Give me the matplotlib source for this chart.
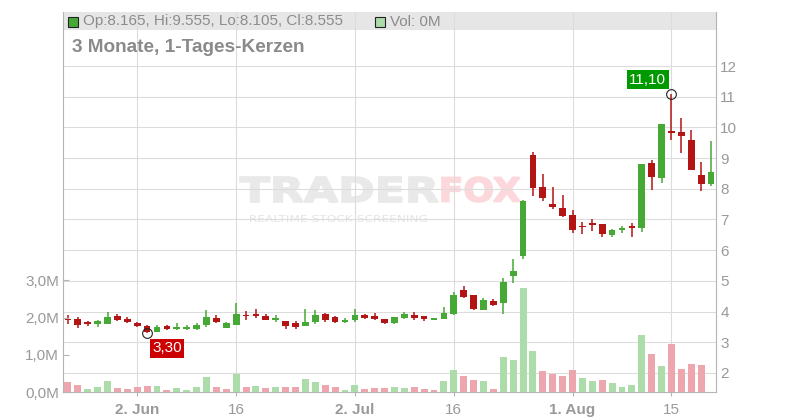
import numpy as np
import pandas as pd
import matplotlib
matplotlib.use('Agg')
import matplotlib.pyplot as plt
import matplotlib.transforms as mtransforms
from matplotlib.patches import Rectangle, PathPatch
from matplotlib.textpath import TextPath
from matplotlib.font_manager import FontProperties

plt.rcParams['font.family'] = ['Liberation Sans', 'DejaVu Sans']

# daily candles, 22 May - 21 Aug 2025 (weekdays)
dates = pd.bdate_range('2025-05-22', '2025-08-21')

opens = [3.73, 3.76, 3.67, 3.60, 3.61, 3.85, 3.77, 3.64, 3.52, 3.34,
         3.53, 3.44, 3.43, 3.44, 3.57, 3.80, 3.48, 3.57, 3.88, 3.91,
         3.87, 3.74, 3.69, 3.64, 3.53, 3.67, 3.92, 3.82, 3.66, 3.73,
         3.89, 3.86, 3.76, 3.63, 3.79, 3.89, 3.86, 3.73, 3.76, 3.92,
         4.70, 4.54, 4.05, 4.35, 4.29, 5.17, 5.82, 9.10, 8.07, 7.50,
         7.38, 7.15, 6.77, 6.90, 6.85, 6.50, 6.67, 6.80, 6.73, 8.84,
         8.36, 9.89, 9.86, 9.59, 8.45, 8.165]
highs = [3.89, 3.82, 3.70, 3.74, 4.00, 3.93, 3.82, 3.67, 3.55, 3.57,
         3.55, 3.63, 3.56, 3.64, 4.05, 3.88, 3.66, 4.29, 4.03, 4.08,
         3.91, 3.89, 3.69, 3.69, 4.08, 4.05, 3.96, 3.86, 3.79, 4.08,
         3.91, 3.95, 3.76, 3.82, 3.99, 3.99, 3.86, 3.77, 4.15, 4.64,
         4.83, 4.54, 4.44, 4.41, 5.09, 5.71, 7.62, 9.20, 8.48, 8.07,
         7.80, 7.31, 6.91, 7.01, 6.85, 6.69, 6.80, 6.90, 8.81, 8.95,
         10.11, 11.10, 10.30, 9.92, 8.86, 9.555]
lows = [3.59, 3.48, 3.54, 3.50, 3.61, 3.70, 3.63, 3.49, 3.30, 3.33,
        3.39, 3.39, 3.41, 3.39, 3.50, 3.63, 3.48, 3.57, 3.74, 3.80,
        3.72, 3.67, 3.43, 3.43, 3.53, 3.60, 3.67, 3.64, 3.64, 3.67,
        3.76, 3.73, 3.60, 3.60, 3.76, 3.73, 3.69, 3.72, 3.76, 3.89,
        4.44, 4.05, 4.05, 4.18, 3.93, 4.94, 5.70, 7.77, 7.61, 7.33,
        7.09, 6.57, 6.52, 6.64, 6.42, 6.42, 6.55, 6.44, 6.60, 7.96,
        8.18, 9.59, 9.16, 8.62, 7.94, 8.105]
closes = [3.72, 3.55, 3.61, 3.69, 3.82, 3.74, 3.67, 3.52, 3.33, 3.50,
          3.43, 3.46, 3.51, 3.57, 3.82, 3.67, 3.64, 3.93, 3.84, 3.85,
          3.74, 3.76, 3.54, 3.51, 3.66, 3.89, 3.73, 3.67, 3.73, 3.89,
          3.79, 3.76, 3.63, 3.82, 3.92, 3.79, 3.75, 3.74, 3.95, 4.54,
          4.48, 4.08, 4.38, 4.21, 4.96, 5.32, 7.60, 8.04, 7.71, 7.41,
          7.12, 6.67, 6.75, 6.83, 6.54, 6.66, 6.69, 6.73, 8.81, 8.37,
          10.11, 9.83, 9.72, 8.62, 8.17, 8.555]
volumes = [0.28, 0.20, 0.09, 0.14, 0.30, 0.12, 0.09, 0.14, 0.17, 0.17,
           0.06, 0.12, 0.06, 0.14, 0.41, 0.14, 0.09, 0.49, 0.14, 0.17,
           0.12, 0.14, 0.14, 0.14, 0.36, 0.28, 0.20, 0.14, 0.06, 0.20,
           0.09, 0.12, 0.12, 0.13, 0.10, 0.13, 0.07, 0.05, 0.29, 0.58,
           0.42, 0.31, 0.30, 0.09, 0.95, 0.87, 2.80, 1.10, 0.56, 0.48,
           0.43, 0.59, 0.38, 0.30, 0.32, 0.24, 0.13, 0.19, 1.53, 1.02,
           0.70, 1.29, 0.62, 0.75, 0.72, 0.0]

tick_dates = ['2025-06-02', '2025-06-16', '2025-07-02', '2025-07-16', '2025-08-01', '2025-08-15']
tick_labels = ['2. Jun', '16', '2. Jul', '16', '1. Aug', '15']
price_ticks = list(range(2, 13))
vol_ticks = [0, 1, 2, 3]

GREEN = '#46a935'
RED = '#b31515'
VGREEN = '#acdcaa'
VRED = '#eea6ae'
TXT = '#999999'
W, H = 800, 420

o, h, l, c = map(np.array, (opens, highs, lows, closes))
v = np.array(volumes)
x = np.arange(len(dates))

fig = plt.figure(figsize=(W / 100, H / 100), dpi=100)
ax = fig.add_axes([63 / W, 1 - 392 / H, (716 - 63) / W, (392 - 12) / H])
axv = ax.twinx()

# candles
ccol = np.where(c >= o, GREEN, RED)
ax.vlines(x, l, h, colors=ccol, linewidth=1.1, zorder=3)
ax.bar(x, np.maximum(np.abs(c - o), 0.05), bottom=np.minimum(o, c),
       width=0.68, color=ccol, zorder=4)

# volume, coloured by close-to-close change
vup = np.r_[False, c[1:] >= c[:-1]]
axv.bar(x, v, width=0.7, color=np.where(vup, VGREEN, VRED), zorder=2)

ax.set_xlim(-0.5, len(x) - 0.5)
ax.set_ylim(1.38, 13.76)
axv.set_ylim(0, 10.21)

pos = [dates.get_loc(pd.Timestamp(d)) for d in tick_dates]
ax.set_xticks(pos)
ax.set_xticklabels(tick_labels)
for lab in ax.get_xticklabels():
    if '.' in lab.get_text():
        lab.set_fontweight('bold')
ax.set_yticks(price_ticks)
ax.yaxis.tick_right()
axv.yaxis.tick_left()
axv.set_yticks(vol_ticks)
axv.set_yticklabels([f'{t:.1f}M'.replace('.', ',') for t in vol_ticks])

ax.grid(True, color='#dcdcdc', linewidth=0.8)
ax.set_axisbelow(True)
for s in axv.spines.values():
    s.set_visible(False)
ax.spines['top'].set_visible(False)
for s in ('left', 'right', 'bottom'):
    ax.spines[s].set_color('#b4b4b4')

ax.tick_params(axis='y', right=True, left=False, length=0, pad=3,
               labelsize=11, labelcolor=TXT)
ax.tick_params(axis='x', length=3, color='#b4b4b4', pad=5,
               labelsize=11, labelcolor=TXT)
axv.tick_params(axis='y', left=True, right=False, direction='in', length=4,
                color='#b4b4b4', pad=3, labelsize=11, labelcolor=TXT)

# legend band at top of plot
ax.add_artist(Rectangle((0, 1 - 18 / 380), 1, 18 / 380, transform=ax.transAxes,
                        facecolor='#e6e6e6', edgecolor='none', zorder=0.4))


def stamp(txt, x0, y0, x1, y1, color, weight='bold', edge=1.2):
    fp = FontProperties(family='DejaVu Sans', weight=weight)
    tp = TextPath((0, 0), txt, size=1, prop=fp)
    e = tp.get_extents()
    tr = (mtransforms.Affine2D().translate(-e.x0, -e.y0)
          .scale((x1 - x0) / e.width / W, (y1 - y0) / e.height / H)
          .translate(x0 / W, 1 - y1 / H) + fig.transFigure)
    ax.add_artist(PathPatch(tp, transform=tr, facecolor=color,
                            edgecolor=color, linewidth=edge, zorder=0.3))


# watermark
stamp('TRADER', 240, 177, 438, 202, '#e9e9e9')
stamp('FOX', 442, 177, 520, 202, '#fcd8dc')
stamp('REALTIME STOCK SCREENING', 250, 215, 427, 222, '#e4e4e4', 'normal', 0)

# lowest low / highest high markers
fmt = lambda val: f'{val:.2f}'.replace('.', ',')
i_lo, i_hi = int(np.argmin(l)), int(np.argmax(h))
for i, val in ((i_lo, l[i_lo]), (i_hi, h[i_hi])):
    ax.plot(i, val, 'o', mfc='none', mec='#222222', ms=7, mew=0.8, zorder=6)
ax.annotate(fmt(l[i_lo]), (i_lo, l[i_lo]), xytext=(14.5, -11), textcoords='offset points',
            ha='center', va='center', color='white', fontsize=11, zorder=7,
            bbox=dict(boxstyle='square,pad=0.15', fc='#cc0000', ec='none'))
ax.annotate(fmt(h[i_hi]), (i_hi, h[i_hi]), xytext=(-17, 10), textcoords='offset points',
            ha='center', va='center', color='white', fontsize=11, zorder=7,
            bbox=dict(boxstyle='square,pad=0.15', fc='#009900', ec='none'))

# header texts
fig.add_artist(Rectangle((68 / W, 1 - 27 / H), 10 / W, 10 / H, transform=fig.transFigure,
                         facecolor=GREEN, edgecolor='#222222', linewidth=0.8))
fig.text(83 / W, 1 - 21.5 / H,
         f'Op:{o[-1]:.3f}, Hi:{h[-1]:.3f}, Lo:{l[-1]:.3f}, Cl:{c[-1]:.3f}',
         fontsize=11, color='#8c8c8c', va='center')
fig.add_artist(Rectangle((375 / W, 1 - 27 / H), 10 / W, 10 / H, transform=fig.transFigure,
                         facecolor=VGREEN, edgecolor='#222222', linewidth=0.8))
fig.text(390 / W, 1 - 21.5 / H, f'Vol: {v[-1]:.0f}M', fontsize=11, color='#8c8c8c', va='center')
fig.text(72 / W, 1 - 48 / H, '3 Monate, 1-Tages-Kerzen', fontsize=13.7,
         fontweight='bold', color='#8a8a8a', va='center')

fig.savefig('out.png', dpi=100)
